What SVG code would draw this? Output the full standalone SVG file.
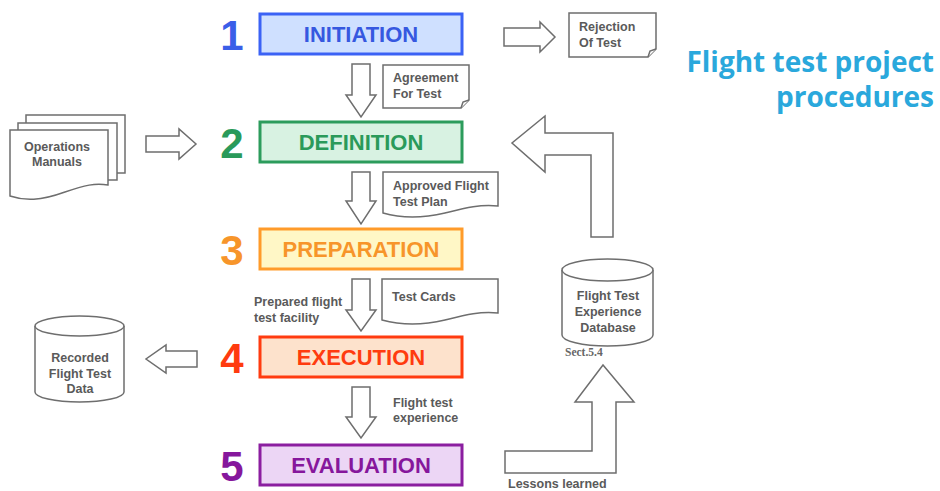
<svg xmlns="http://www.w3.org/2000/svg" width="940" height="491" viewBox="0 0 940 491">
<style>
.box{stroke-width:3}
.lbl{font-family:"Liberation Sans",Arial,sans-serif;font-weight:bold;font-size:22px;text-anchor:middle}
.num{font-family:"Liberation Sans",Arial,sans-serif;font-weight:bold;font-size:42px;text-anchor:middle}
.sm{font-family:"Liberation Sans",Arial,sans-serif;font-weight:bold;font-size:12.5px;fill:#5a5a5a}
.c{text-anchor:middle}
.sh{fill:#fff;stroke:#6e6e6e;stroke-width:1.5;stroke-linejoin:miter}
.title{font-family:"Open Sans","Noto Sans",sans-serif;font-weight:bold;font-size:28px;fill:#2aa8dc;text-anchor:end}
</style>
<rect width="940" height="491" fill="#fff"/>

<g id="title">
<text class="title" x="934" y="72">Flight test project</text>
<text class="title" x="934" y="107">procedures</text>
</g>

<g id="initiation">
<rect class="box" x="260" y="14" width="202" height="40" fill="#cfe0ff" stroke="#3b62f5"/>
<text class="lbl" x="361" y="42" fill="#3658e0">INITIATION</text>
<text class="num" x="232" y="50" fill="#3a5ee8">1</text>
</g>
<g id="definition">
<rect class="box" x="260" y="122" width="202" height="40" fill="#d8f2e2" stroke="#2c9c5c"/>
<text class="lbl" x="361" y="150" fill="#2a9a5a">DEFINITION</text>
<text class="num" x="232" y="158" fill="#2a9a5a">2</text>
</g>
<g id="preparation">
<rect class="box" x="260" y="229" width="202" height="40" fill="#fff7c6" stroke="#ff9b2a"/>
<text class="lbl" x="361" y="257" fill="#f7952a">PREPARATION</text>
<text class="num" x="232" y="265" fill="#f7952a">3</text>
</g>
<g id="execution">
<rect class="box" x="260" y="337" width="202" height="40" fill="#fde2cc" stroke="#ff3b0f"/>
<text class="lbl" x="361" y="365" fill="#ff3b0f">EXECUTION</text>
<text class="num" x="232" y="373" fill="#ff3b0f">4</text>
</g>
<g id="evaluation">
<rect class="box" x="260" y="445" width="202" height="40" fill="#ecd6f5" stroke="#8b1ea0"/>
<text class="lbl" x="361" y="473" fill="#86179c">EVALUATION</text>
<text class="num" x="232" y="481" fill="#86179c">5</text>
</g>

<g id="rejection">
<path class="sh" d="M569,13 H656 V49 L648,57 H569 Z"/>
<path class="sh" d="M648,57 L650,51 L656,49"/>
<text class="sm" x="579" y="31">Rejection</text>
<text class="sm" x="579" y="47">Of Test</text>
</g>
<g id="agreement">
<path class="sh" d="M383,65 H469 V100 L461,108 H383 Z"/>
<path class="sh" d="M461,108 L463,102 L469,100"/>
<text class="sm" x="393" y="82">Agreement</text>
<text class="sm" x="393" y="98">For Test</text>
</g>
<g id="approved-plan">
<path class="sh" d="M383,172 H498 V206 C480,204 465,208 445,213 C420,219 400,218 383,213 Z"/>
<text class="sm" x="393" y="190">Approved Flight</text>
<text class="sm" x="393" y="206">Test Plan</text>
</g>
<g id="test-cards">
<path class="sh" d="M382,279 H498 V313 C480,311 465,315 445,320 C420,326 400,325 382,320 Z"/>
<text class="sm" x="392" y="301">Test Cards</text>
</g>
<g id="operations-manuals">
<rect class="sh" x="26" y="115" width="99" height="58"/>
<rect class="sh" x="18" y="123" width="99" height="57"/>
<path class="sh" d="M10,130 H108 V185 C95,183 85,185 65,192 C40,201 25,201 10,196 Z"/>
<text class="sm c" x="57" y="151">Operations</text>
<text class="sm c" x="57" y="166">Manuals</text>
</g>
<g id="recorded-data">
<path class="sh" d="M35,326 V392 A44.5,10 0 0 0 124,392 V326"/>
<ellipse class="sh" cx="79.5" cy="326" rx="44.5" ry="10"/>
<text class="sm c" x="80" y="362">Recorded</text>
<text class="sm c" x="80" y="378">Flight Test</text>
<text class="sm c" x="80" y="393">Data</text>
</g>
<g id="experience-db">
<path class="sh" d="M562,270 V335 A45.5,11 0 0 0 653,335 V270"/>
<ellipse class="sh" cx="607.5" cy="270" rx="45.5" ry="11"/>
<text class="sm c" x="608" y="300">Flight Test</text>
<text class="sm c" x="608" y="316">Experience</text>
<text class="sm c" x="608" y="332">Database</text>
<text x="565" y="356" font-family="'Liberation Serif',serif" font-weight="bold" font-size="11.5" fill="#666">Sect.5.4</text>
</g>

<g id="connectors">
<polygon class="sh" points="504,28 540,28 540,22 555,37 540,52 540,46 504,46"/>
<polygon class="sh" points="352,64 370,64 370,95 376,95 361,117 346,95 352,95"/>
<polygon class="sh" points="352,172 370,172 370,201 376,201 361,224 346,201 352,201"/>
<polygon class="sh" points="352,279 370,279 370,310 376,310 361,331 346,310 352,310"/>
<polygon class="sh" points="352,387 370,387 370,417 376,417 361,438 346,417 352,417"/>
<polygon class="sh" points="146,136 179,136 179,129 196,144 179,159 179,152 146,152"/>
<polygon class="sh" points="197,351 166,351 166,345 146,359 166,373 166,367 197,367"/>
<polygon class="sh" points="613,237 613,133 545,133 545,116 512,143 545,172 545,155 591,155 591,237"/>
<polygon class="sh" points="505,451 592,451 592,402 575,402 603,365 634,402 616,402 616,473 505,473"/>
<text class="sm" x="254" y="306">Prepared flight</text>
<text class="sm" x="254" y="322">test facility</text>
<text class="sm" x="393" y="407">Flight test</text>
<text class="sm" x="393" y="422">experience</text>
<text class="sm" x="508" y="488">Lessons learned</text>
</g>
</svg>
